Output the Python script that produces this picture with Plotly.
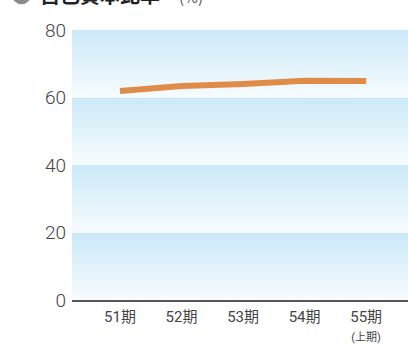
import plotly.graph_objects as go

# 自己資本比率 (%) by fiscal period
periods = ["51期", "52期", "53期", "54期", "55期"]
tick_text = ["51期", "52期", "53期", "54期",
             "55期<br><span style='font-size:11px'>(上期)</span>"]
ratio = [61.9, 63.4, 64.0, 65.0, 64.9]
y_ticks = [0, 20, 40, 60, 80]

x_idx = list(range(len(periods)))
x_lo, x_hi = -0.78, 4.68

# plot area size in pixels, used to place header items in paper units
W, H = 408, 344
ML, MR, MT, MB = 72, 0, 30, 42
PW, PH = W - ML - MR, H - MT - MB


def px_x(x):
    return (x - ML) / PW


def px_y(y):
    return 1 + (MT - y) / PH


fig = go.Figure()

# gradient background bands between the gridlines
for lo, hi in zip(y_ticks[:-1], y_ticks[1:]):
    fig.add_trace(go.Scatter(
        x=[x_lo, x_hi, x_hi, x_lo, x_lo],
        y=[lo, lo, hi, hi, lo],
        mode="lines", line=dict(width=0),
        fill="toself",
        fillgradient=dict(type="vertical",
                          colorscale=[[0, "#f7fcfe"], [1, "#cbe9f8"]]),
        hoverinfo="skip", showlegend=False,
    ))

fig.add_trace(go.Scatter(
    x=x_idx, y=ratio, mode="lines",
    line=dict(color="#e08c48", width=6),
    showlegend=False,
))

fig.update_layout(
    width=W, height=H,
    margin=dict(l=ML, r=MR, t=MT, b=MB),
    paper_bgcolor="white", plot_bgcolor="white",
    font=dict(family="Roboto, 'Noto Sans CJK JP', sans-serif", color="#444"),
    xaxis=dict(range=[x_lo, x_hi], tickvals=x_idx, ticktext=tick_text,
               showgrid=False, zeroline=False, showline=True,
               linecolor="#555", linewidth=1.5, ticks="",
               ticklabelstandoff=2,
               tickfont=dict(size=15, color="#444",
                             family="Roboto, 'Noto Sans CJK JP', sans-serif")),
    yaxis=dict(range=[0, 80], tickvals=y_ticks, showgrid=False,
               zeroline=False, showline=False, ticks="",
               ticklabelstandoff=5,
               tickfont=dict(size=19, color="#444", weight=300)),
    shapes=[
        dict(type="circle", xref="paper", yref="paper",
             x0=px_x(12), x1=px_x(31), y0=px_y(4), y1=px_y(-15),
             fillcolor="#8c8c8c", line=dict(width=0), layer="above"),
    ],
    annotations=[
        dict(text="<b>自己資本比率</b>",
             xref="paper", yref="paper", x=px_x(38), y=px_y(11),
             xanchor="left", yanchor="bottom",
             font=dict(size=20, color="#222",
                       family="'Noto Sans CJK JP', sans-serif"),
             showarrow=False),
        dict(text="(%)",
             xref="paper", yref="paper", x=px_x(177), y=px_y(9),
             xanchor="left", yanchor="bottom",
             font=dict(size=15, color="#555",
                       family="'Noto Sans CJK JP', sans-serif"),
             showarrow=False),
    ],
)

fig.write_html("out.html")
